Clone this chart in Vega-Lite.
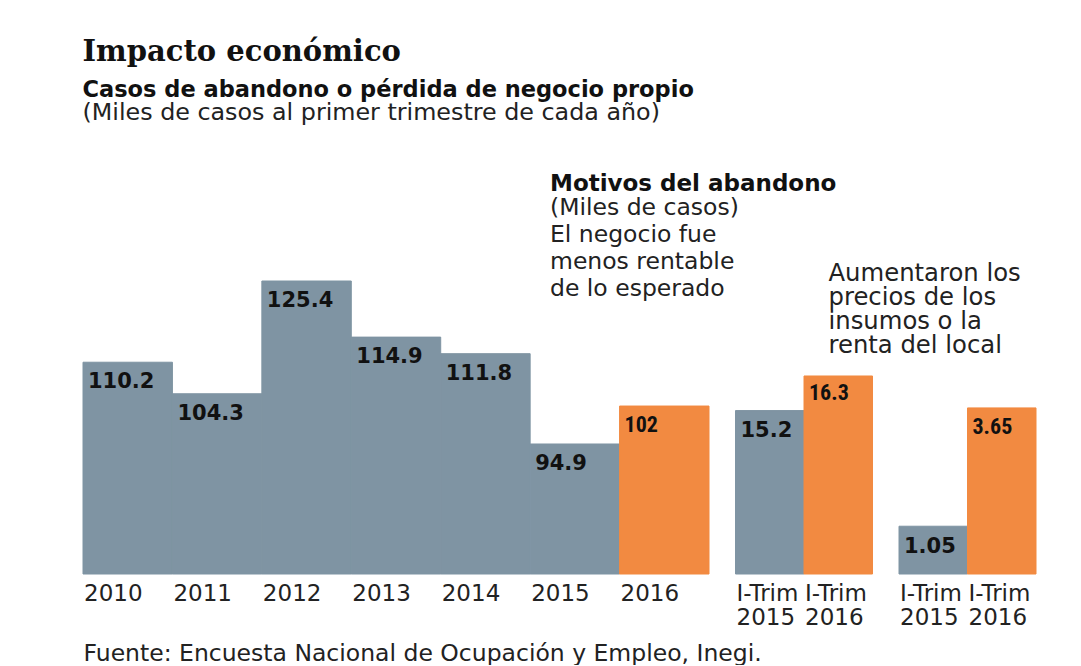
{
  "$schema": "https://vega.github.io/schema/vega-lite/v6.json",
  "background": "white",
  "padding": {"left": 82, "top": 37, "right": 0, "bottom": 0},
  "bounds": "flush",
  "spacing": 26.5,
  "title": {
    "text": "Impacto económico",
    "anchor": "start",
    "font": "DejaVu Serif",
    "fontSize": 29,
    "fontWeight": "bold",
    "color": "#111111",
    "offset": 12
  },
  "config": {
    "view": {"stroke": null},
    "axis": {
      "domain": false,
      "ticks": false,
      "grid": false,
      "labelAngle": 0,
      "labelAlign": "left",
      "labelBaseline": "top",
      "labelPadding": 8,
      "labelFont": "DejaVu Sans",
      "labelFontSize": 23,
      "labelColor": "#222222",
      "labelOverlap": false,
      "labelBound": false,
      "labelLimit": 0,
      "labelLineHeight": 24,
      "labelExpr": "split(datum.label, '|')"
    }
  },
  "datasets": {
    "g1": [
      {"periodo": "2010", "valor": 110.2, "serie": "anterior"},
      {"periodo": "2011", "valor": 104.3, "serie": "anterior"},
      {"periodo": "2012", "valor": 125.4, "serie": "anterior"},
      {"periodo": "2013", "valor": 114.9, "serie": "anterior"},
      {"periodo": "2014", "valor": 111.8, "serie": "anterior"},
      {"periodo": "2015", "valor": 94.9, "serie": "anterior"},
      {"periodo": "2016", "valor": 102, "serie": "2016"}
    ],
    "g2": [
      {"periodo": "I-Trim|2015", "valor": 15.2, "serie": "anterior"},
      {"periodo": "I-Trim|2016", "valor": 16.3, "serie": "2016"}
    ],
    "g3": [
      {"periodo": "I-Trim|2015", "valor": 1.05, "serie": "anterior"},
      {"periodo": "I-Trim|2016", "valor": 3.65, "serie": "2016"}
    ]
  },
  "hconcat": [
    {
      "width": 626,
      "height": 300,
      "data": {"name": "g1"},
      "title": {
        "text": "Casos de abandono o pérdida de negocio propio",
        "subtitle": "(Miles de casos al primer trimestre de cada año)",
        "anchor": "start",
        "font": "DejaVu Sans",
        "fontSize": 22.5,
        "fontWeight": "bold",
        "color": "#111111",
        "subtitleFont": "DejaVu Sans",
        "subtitleFontSize": 23.8,
        "subtitleColor": "#222222",
        "subtitlePadding": 0,
        "offset": 149
      },
      "layer": [
        {
          "mark": {"type": "bar", "strokeWidth": 1},
          "encoding": {
            "x": {
              "field": "periodo", "type": "ordinal", "sort": null,
              "scale": {"paddingInner": 0, "paddingOuter": 0},
              "axis": {
                "labelOffset": -43.7,
                "title": "Fuente: Encuesta Nacional de Ocupación y Empleo, Inegi.",
                "titleAnchor": "start",
                "titleAlign": "left",
                "titleBaseline": "top",
                "titleFont": "DejaVu Sans",
                "titleFontSize": 23.5,
                "titleFontWeight": "normal",
                "titleColor": "#222222",
                "titlePadding": 36
              }
            },
            "y": {"field": "valor", "type": "quantitative", "scale": {"domain": [70.57, 126.71], "nice": false, "zero": false}, "axis": null},
            "y2": {"datum": 70.57},
            "color": {"field": "serie", "type": "nominal", "scale": {"domain": ["anterior", "2016"], "range": ["#7f94a3", "#f28a41"]}, "legend": null},
            "stroke": {"field": "serie", "type": "nominal", "scale": {"domain": ["anterior", "2016"], "range": ["#7f94a3", "#f28a41"]}, "legend": null}
          }
        },
        {
          "transform": [{"filter": "datum.serie == 'anterior'"}],
          "mark": {"type": "text", "align": "left", "baseline": "alphabetic", "dx": 5, "dy": 26, "font": "DejaVu Sans", "fontWeight": "bold", "fontSize": 21, "color": "#111111"},
          "encoding": {
            "x": {"field": "periodo", "type": "ordinal", "sort": null, "bandPosition": 0},
            "y": {"field": "valor", "type": "quantitative"},
            "text": {"field": "valor", "type": "nominal"}
          }
        },
        {
          "transform": [{"filter": "datum.serie == '2016'"}],
          "mark": {"type": "text", "align": "left", "baseline": "alphabetic", "dx": 5, "dy": 26, "font": "Roboto Condensed, Roboto, sans-serif", "fontWeight": "bold", "fontSize": 22, "color": "#111111"},
          "encoding": {
            "x": {"field": "periodo", "type": "ordinal", "sort": null, "bandPosition": 0},
            "y": {"field": "valor", "type": "quantitative"},
            "text": {"field": "valor", "type": "nominal"}
          }
        }
      ]
    },
    {
      "width": 137,
      "height": 300,
      "data": {"name": "g2"},
      "title": {
        "text": "Motivos del abandono",
        "subtitle": ["(Miles de casos)", "El negocio fue", "menos rentable", "de lo esperado"],
        "anchor": "start",
        "font": "DejaVu Sans",
        "fontSize": 23,
        "fontWeight": "bold",
        "color": "#111111",
        "subtitleFont": "DejaVu Sans",
        "subtitleFontSize": 23.5,
        "subtitleColor": "#222222",
        "subtitleLineHeight": 27,
        "subtitlePadding": 0,
        "dx": -185,
        "offset": 0,
        "dy": 26
      },
      "layer": [
        {
          "mark": {"type": "bar", "strokeWidth": 1},
          "encoding": {
            "x": {"field": "periodo", "type": "ordinal", "sort": null, "scale": {"paddingInner": 0, "paddingOuter": 0}, "axis": {"title": null, "labelOffset": -33.25}},
            "y": {"field": "valor", "type": "quantitative", "scale": {"domain": [10, 19.545], "nice": false, "zero": false}, "axis": null},
            "y2": {"datum": 10},
            "color": {"field": "serie", "type": "nominal", "legend": null},
            "stroke": {"field": "serie", "type": "nominal", "legend": null}
          }
        },
        {
          "transform": [{"filter": "datum.serie == 'anterior'"}],
          "mark": {"type": "text", "align": "left", "baseline": "alphabetic", "dx": 5, "dy": 26, "font": "DejaVu Sans", "fontWeight": "bold", "fontSize": 21, "color": "#111111"},
          "encoding": {
            "x": {"field": "periodo", "type": "ordinal", "sort": null, "bandPosition": 0},
            "y": {"field": "valor", "type": "quantitative"},
            "text": {"field": "valor", "type": "nominal"}
          }
        },
        {
          "transform": [{"filter": "datum.serie == '2016'"}],
          "mark": {"type": "text", "align": "left", "baseline": "alphabetic", "dx": 5, "dy": 24, "font": "Roboto Condensed, Roboto, sans-serif", "fontWeight": "bold", "fontSize": 22, "color": "#111111"},
          "encoding": {
            "x": {"field": "periodo", "type": "ordinal", "sort": null, "bandPosition": 0},
            "y": {"field": "valor", "type": "quantitative"},
            "text": {"field": "valor", "type": "nominal"}
          }
        }
      ]
    },
    {
      "width": 137,
      "height": 300,
      "data": {"name": "g3"},
      "title": {
        "text": ["Aumentaron los", "precios de los", "insumos o la", "renta del local"],
        "anchor": "start",
        "font": "DejaVu Sans",
        "fontSize": 24.3,
        "fontWeight": "normal",
        "color": "#222222",
        "lineHeight": 24,
        "dx": -70,
        "offset": 0,
        "dy": 84
      },
      "layer": [
        {
          "mark": {"type": "bar", "strokeWidth": 1},
          "encoding": {
            "x": {"field": "periodo", "type": "ordinal", "sort": null, "scale": {"paddingInner": 0, "paddingOuter": 0}, "axis": {"title": null, "labelOffset": -33.25}},
            "y": {"field": "valor", "type": "quantitative", "scale": {"domain": [0, 6.593], "nice": false, "zero": false}, "axis": null},
            "y2": {"datum": 0},
            "color": {"field": "serie", "type": "nominal", "legend": null},
            "stroke": {"field": "serie", "type": "nominal", "legend": null}
          }
        },
        {
          "transform": [{"filter": "datum.serie == 'anterior'"}],
          "mark": {"type": "text", "align": "left", "baseline": "alphabetic", "dx": 5, "dy": 27, "font": "DejaVu Sans", "fontWeight": "bold", "fontSize": 21, "color": "#111111"},
          "encoding": {
            "x": {"field": "periodo", "type": "ordinal", "sort": null, "bandPosition": 0},
            "y": {"field": "valor", "type": "quantitative"},
            "text": {"field": "valor", "type": "nominal"}
          }
        },
        {
          "transform": [{"filter": "datum.serie == '2016'"}],
          "mark": {"type": "text", "align": "left", "baseline": "alphabetic", "dx": 5, "dy": 26, "font": "Roboto Condensed, Roboto, sans-serif", "fontWeight": "bold", "fontSize": 22, "color": "#111111"},
          "encoding": {
            "x": {"field": "periodo", "type": "ordinal", "sort": null, "bandPosition": 0},
            "y": {"field": "valor", "type": "quantitative"},
            "text": {"field": "valor", "type": "nominal"}
          }
        }
      ]
    }
  ]
}
